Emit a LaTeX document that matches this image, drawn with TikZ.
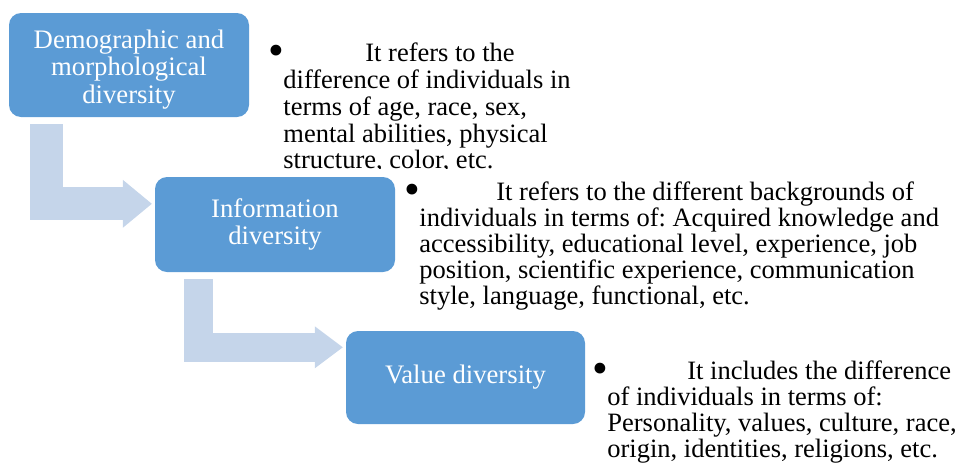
\documentclass[tikz,border=0pt]{standalone}
\usepackage{fontspec}
\setmainfont{Liberation Serif}
\usetikzlibrary{positioning,arrows.meta}
\definecolor{boxblue}{RGB}{91,155,213}
\definecolor{arrowblue}{RGB}{197,213,234}
\tikzset{
divbox/.style = {fill = boxblue, shape = rectangle, rounded corners = 12pt, text = white, align = center, inner sep = 0pt, font = \fontsize{26.7}{27.5}\selectfont},
notetext/.style = {align = left, inner sep = 0pt, font = \fontsize{26.5}{26}\selectfont},
bentarrow/.style = {draw = arrowblue, line join = miter}
}
\newcommand{\notebullet}{\llap{\smash{\raisebox{-4pt}{\scalebox{1.7}{\textbullet}}}\hspace{-1pt}}}
\frenchspacing

\begin{document}
\begin{tikzpicture}[x = 1pt, y = -1pt]
\useasboundingbox (0,0) rectangle (959,464);
\node[divbox, minimum width = 240pt, minimum height = 104pt] (dem) at (129,65) {\rule{0pt}{27pt}Demographic and\\morphological\\diversity};
\node[divbox, minimum width = 240pt, minimum height = 95pt] (info) at (275,224.5) {Information\\diversity};
\node[divbox, minimum width = 239pt, minimum height = 93pt] (val) at (465.5,377.5) {Value diversity};
\begin{scope}
\clip (0,0) rectangle (959,168);
\node[notetext, font = \fontsize{26.5}{26.8}\selectfont, below right = 30pt and 34pt of dem.north east] (demnote) {\notebullet\hspace*{82pt}It refers to the\\difference of individuals in\\terms of age, race, sex,\\mental abilities, physical\\structure, color, etc.};
\end{scope}
\node[notetext, below right = 5pt and 24pt of info.north east] (infonote) {\notebullet\hspace*{77pt}It refers to the different backgrounds of\\individuals in terms of: Acquired knowledge and\\accessibility, educational level, experience, job\\position, scientific experience, communication\\style, language, functional, etc.};
\node[notetext, below right = 30pt and 22pt of val.north east] (valnote) {\notebullet\hspace*{80pt}It includes the difference\\of individuals in terms of:\\Personality, values, culture, race,\\origin, identities, religions, etc.};
\draw[bentarrow, line width = 33pt, -{Triangle[length = 29pt, width = 48pt, line width = 0pt]}] ([xshift = 37.5pt, yshift = -7pt]dem.south west) |- ([xshift = -3pt, yshift = -27pt]info.north west);
\draw[bentarrow, line width = 29pt, -{Triangle[length = 28pt, width = 42pt, line width = 0pt]}] ([xshift = 44pt, yshift = -7pt]info.south west) |- ([xshift = -3pt, yshift = -16.5pt]val.north west);
\end{tikzpicture}
\end{document}
